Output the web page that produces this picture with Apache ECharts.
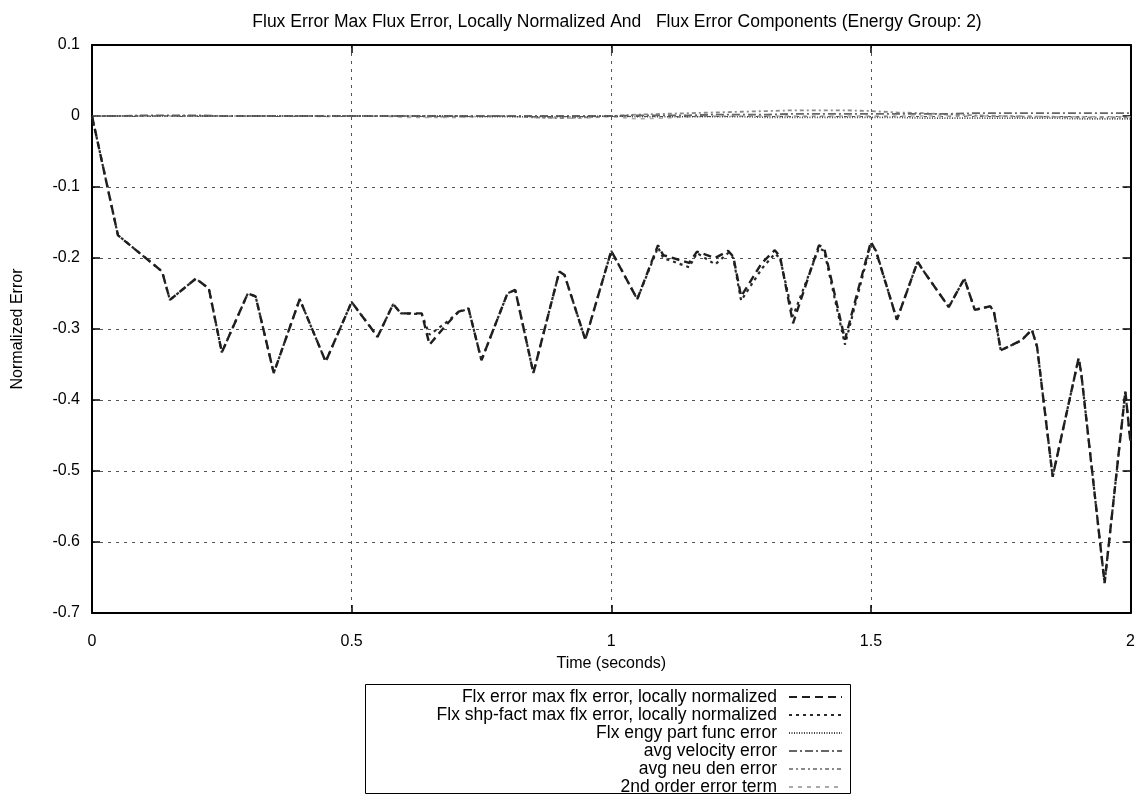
<!DOCTYPE html>
<html>
<head>
<meta charset="utf-8">
<title>Flux Error Components</title>
<script src="https://cdn.jsdelivr.net/npm/echarts@6/dist/echarts.min.js"></script>
<style>
  html, body { margin: 0; padding: 0; background: #fff; }
  #chart { width: 1138px; height: 795px; }
</style>
</head>
<body>
<div id="chart"></div>
<script>
// Time samples (seconds) of the locally normalized flux error series
const fluxTimes = [
  0, 0.05, 0.1, 0.135, 0.15, 0.2, 0.225, 0.25, 0.3, 0.315, 0.35, 0.4, 0.45, 0.5,
  0.55, 0.58, 0.595, 0.635, 0.65, 0.68, 0.705, 0.725, 0.75, 0.8, 0.815, 0.85,
  0.9, 0.91, 0.95, 1.0, 1.05, 1.09, 1.1, 1.15, 1.165, 1.2, 1.225, 1.235, 1.25,
  1.29, 1.315, 1.325, 1.35, 1.4, 1.41, 1.45, 1.5, 1.51, 1.55, 1.59, 1.6, 1.65,
  1.68, 1.7, 1.73, 1.737, 1.75, 1.79, 1.81, 1.82, 1.85, 1.9, 1.905, 1.95, 1.99, 2.0
];
const flxErrorMax = [
  0, -0.168, -0.198, -0.219, -0.259, -0.229, -0.243, -0.333, -0.25, -0.254, -0.362, -0.258, -0.346, -0.262,
  -0.311, -0.265, -0.278, -0.278, -0.322, -0.296, -0.276, -0.271, -0.344, -0.25, -0.245, -0.362,
  -0.219, -0.224, -0.315, -0.19, -0.258, -0.182, -0.196, -0.207, -0.191, -0.2, -0.19, -0.198, -0.254,
  -0.207, -0.189, -0.198, -0.292, -0.182, -0.186, -0.315, -0.177, -0.191, -0.287, -0.205, -0.217, -0.269,
  -0.229, -0.273, -0.268, -0.276, -0.33, -0.316, -0.301, -0.325, -0.508, -0.341, -0.362, -0.658, -0.388, -0.461
];
const flxShpFactMax = [
  0, -0.168, -0.198, -0.219, -0.259, -0.229, -0.243, -0.333, -0.25, -0.254, -0.362, -0.258, -0.346, -0.262,
  -0.311, -0.265, -0.278, -0.279, -0.308, -0.292, -0.277, -0.271, -0.344, -0.25, -0.245, -0.362,
  -0.219, -0.224, -0.315, -0.19, -0.258, -0.185, -0.2, -0.213, -0.193, -0.209, -0.193, -0.2, -0.26,
  -0.215, -0.194, -0.2, -0.282, -0.186, -0.19, -0.322, -0.18, -0.19, -0.287, -0.205, -0.217, -0.269,
  -0.229, -0.273, -0.268, -0.276, -0.33, -0.316, -0.301, -0.325, -0.508, -0.341, -0.362, -0.658, -0.388, -0.461
];

// Regular time grid (every 0.05 s) of the component error terms
const componentTimes = [
  0, 0.05, 0.1, 0.15, 0.2, 0.25, 0.3, 0.35, 0.4, 0.45, 0.5, 0.55, 0.6, 0.65, 0.7, 0.75, 0.8, 0.85, 0.9, 0.95,
  1.0, 1.05, 1.1, 1.15, 1.2, 1.25, 1.3, 1.35, 1.4, 1.45, 1.5, 1.55, 1.6, 1.65, 1.7, 1.75, 1.8, 1.85, 1.9, 1.95, 2.0
];
const engyPartFuncError = [
  0, 0, 0, 0, 0, 0, 0, 0, 0, 0, 0, 0, 0, 0, 0, -0.001, -0.001, -0.001, -0.001, -0.001,
  0, -0.001, -0.001, -0.001, -0.001, -0.001, -0.002, -0.002, -0.002, -0.002, -0.002, -0.002, -0.003, -0.003,
  -0.003, -0.003, -0.003, -0.003, -0.004, -0.004, -0.004
];
const avgVelocityError = [
  0, 0, 0.001, 0.001, 0.001, 0, 0, 0, 0, 0, 0, 0, 0, 0, 0, 0, 0, 0, 0, 0,
  0, 0.001, 0.001, 0.001, 0.002, 0.002, 0.002, 0.003, 0.003, 0.003, 0.003, 0.003, 0.003, 0.003,
  0.004, 0.004, 0.004, 0.004, 0.004, 0.004, 0.004
];
const avgNeuDenError = [
  0, 0, 0, 0, 0, 0, 0, 0, 0, 0, 0, 0, 0, -0.001, -0.001, 0, 0, -0.002, -0.003, -0.002,
  0, 0.002, 0.003, 0.004, 0.005, 0.006, 0.007, 0.008, 0.008, 0.008, 0.007, 0.005, 0.004, 0.002,
  0.001, 0, -0.001, -0.001, -0.002, -0.002, -0.002
];
const secondOrderErrorTerm = [
  0, 0, 0, 0, 0, 0, 0, 0, 0, -0.001, 0, 0, -0.002, -0.002, -0.002, -0.001, 0, -0.002, -0.003, -0.003,
  -0.001, -0.004, -0.003, -0.001, 0, 0, 0, 0, 0, 0, 0, 0, 0, 0,
  0, 0, 0, -0.001, -0.001, -0.001, -0.001
];

const seriesNames = [
  'Flx error max flx error, locally normalized',
  'Flx shp-fact max flx error, locally normalized',
  'Flx engy part func error',
  'avg velocity error',
  'avg neu den error',
  '2nd order error term'
];

const xTicks = { min: 0, max: 2, interval: 0.5 };
const yTicks = { min: -0.7, max: 0.1, interval: 0.1 };

function pairs(xs, ys) {
  return xs.map((x, i) => [x, ys[i]]);
}

const FONT = 'Liberation Sans';
const chart = echarts.init(document.getElementById('chart'), null, { renderer: 'canvas' });

function lineSeries(name, xs, ys, color, width, dash, z) {
  return {
    name: name,
    type: 'line',
    data: pairs(xs, ys),
    symbol: 'none',
    showSymbol: false,
    animation: false,
    z: z,
    lineStyle: { color: color, width: width, type: dash },
    itemStyle: { color: color }
  };
}

const frameAxisLine = { show: true, onZero: false, lineStyle: { color: '#000', width: 2 } };
const innerTick = { show: true, inside: true, length: 8, lineStyle: { color: '#000', width: 1.5 } };
const gridLine = { show: true, lineStyle: { color: '#555', width: 1, type: [3, 5] } };

chart.setOption({
  backgroundColor: '#fff',
  animation: false,
  title: {
    text: 'Flux Error Max Flux Error, Locally Normalized And   Flux Error Components (Energy Group: 2)',
    left: 612,
    textAlign: 'center',
    top: 8,
    textStyle: { fontFamily: FONT, fontSize: 17.5, fontWeight: 'normal', color: '#000' }
  },
  grid: { left: 92, right: 6, top: 45, bottom: 182, containLabel: false },
  legend: {
    orient: 'vertical',
    align: 'right',
    right: 295,
    top: 688,
    height: 130,
    padding: 0,
    itemWidth: 53,
    itemHeight: 12,
    itemGap: 0,
    selectedMode: false,
    itemStyle: { opacity: 0, borderWidth: 0 },
    textStyle: { fontFamily: FONT, fontSize: 17.5, color: '#000', lineHeight: 16.3, padding: [0, 7, 0, 0] },
    data: seriesNames
  },
  graphic: [{
    type: 'rect',
    shape: { x: 365.5, y: 684.5, width: 485, height: 109 },
    style: { fill: 'none', stroke: '#000', lineWidth: 1 },
    silent: true,
    z: -1
  }],
  xAxis: [{
    type: 'value',
    min: xTicks.min, max: xTicks.max, interval: xTicks.interval,
    name: 'Time (seconds)',
    nameLocation: 'middle',
    nameGap: 43,
    nameTextStyle: { fontFamily: FONT, fontSize: 16, color: '#000' },
    axisLine: frameAxisLine,
    axisTick: innerTick,
    axisLabel: { fontFamily: FONT, fontSize: 16, color: '#000', margin: 21 },
    splitLine: gridLine
  }, {
    type: 'value',
    position: 'top',
    min: xTicks.min, max: xTicks.max, interval: xTicks.interval,
    axisLine: frameAxisLine,
    axisTick: innerTick,
    axisLabel: { show: false },
    splitLine: { show: false }
  }],
  yAxis: [{
    type: 'value',
    min: yTicks.min, max: yTicks.max, interval: yTicks.interval,
    name: 'Normalized Error',
    nameLocation: 'middle',
    nameRotate: 90,
    nameGap: 66,
    nameTextStyle: { fontFamily: FONT, fontSize: 16, color: '#000' },
    axisLine: frameAxisLine,
    axisTick: innerTick,
    axisLabel: { fontFamily: FONT, fontSize: 16, color: '#000', margin: 12 },
    splitLine: gridLine
  }, {
    type: 'value',
    position: 'right',
    min: yTicks.min, max: yTicks.max, interval: yTicks.interval,
    axisLine: frameAxisLine,
    axisTick: innerTick,
    axisLabel: { show: false },
    splitLine: { show: false }
  }],
  series: [
    lineSeries(seriesNames[0], fluxTimes, flxErrorMax, '#1e1e1e', 2.4, [8, 5], 6),
    lineSeries(seriesNames[1], fluxTimes, flxShpFactMax, '#2a2a2a', 2.2, [3, 4], 5),
    lineSeries(seriesNames[2], componentTimes, engyPartFuncError, '#444', 1.6, [1, 1.5], 4),
    lineSeries(seriesNames[3], componentTimes, avgVelocityError, '#666', 1.8, [8, 3, 2, 3], 3),
    lineSeries(seriesNames[4], componentTimes, avgNeuDenError, '#8a8a8a', 1.8, [4, 3, 2, 3], 2),
    lineSeries(seriesNames[5], componentTimes, secondOrderErrorTerm, '#aaa', 1.5, [4, 5], 1)
  ]
});
</script>
</body>
</html>
